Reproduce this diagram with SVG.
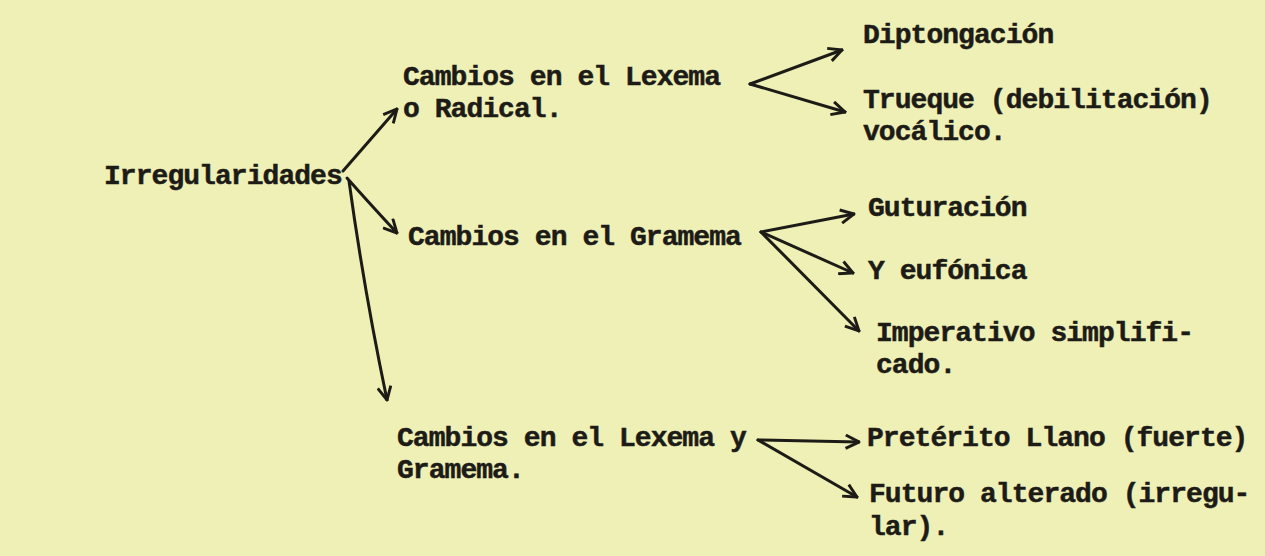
<svg xmlns="http://www.w3.org/2000/svg" width="1265" height="556" viewBox="0 0 1265 556">
<defs>
<style>
.t{font-family:"Liberation Mono","Courier New",monospace;font-weight:bold;font-size:28px;letter-spacing:-0.95px;fill:#1d1b16;stroke:#1d1b16;stroke-width:0.5}
.c{fill:none;stroke:#1d1b16;stroke-width:3;stroke-linecap:round}
</style>
<marker id="ah" viewBox="0 0 12 12" refX="11" refY="6" markerWidth="16" markerHeight="16" markerUnits="userSpaceOnUse" orient="auto">
<path d="M1,1 L11,6 L1,11" fill="none" stroke="#1d1b16" stroke-width="2.2" stroke-linejoin="miter"/>
</marker>
</defs>
<rect width="1265" height="556" fill="#eef0b6"/>
<g id="connectors">
<path class="c" d="M343,171 L397,109" marker-end="url(#ah)"/>
<path class="c" d="M347,178 Q370,204 397,233" marker-end="url(#ah)"/>
<path class="c" d="M349,181 Q364,290 387,400" marker-end="url(#ah)"/>
<path class="c" d="M750,84 L842,50" marker-end="url(#ah)"/>
<path class="c" d="M750,84 L845,112" marker-end="url(#ah)"/>
<path class="c" d="M761,232 L854,214" marker-end="url(#ah)"/>
<path class="c" d="M761,232 L853,273" marker-end="url(#ah)"/>
<path class="c" d="M761,232 L859,331" marker-end="url(#ah)"/>
<path class="c" d="M758,440 L859,442" marker-end="url(#ah)"/>
<path class="c" d="M758,440 L857,497" marker-end="url(#ah)"/>
</g>
<g id="irregularidades"><text class="t" x="104" y="184">Irregularidades</text></g>
<g id="lexema"><text class="t" x="403" y="85">Cambios en el Lexema</text><text class="t" x="403" y="117">o Radical.</text></g>
<g id="gramema"><text class="t" x="408" y="245">Cambios en el Gramema</text></g>
<g id="lexema-gramema"><text class="t" x="397" y="446">Cambios en el Lexema y</text><text class="t" x="397" y="478">Gramema.</text></g>
<g id="diptongacion"><text class="t" x="863" y="43">Diptongación</text></g>
<g id="trueque"><text class="t" x="863" y="108">Trueque (debilitación)</text><text class="t" x="863" y="140">vocálico.</text></g>
<g id="guturacion"><text class="t" x="868" y="216">Guturación</text></g>
<g id="y-eufonica"><text class="t" x="868" y="279">Y eufónica</text></g>
<g id="imperativo"><text class="t" x="876" y="341">Imperativo simplifi-</text><text class="t" x="876" y="373">cado.</text></g>
<g id="preterito"><text class="t" x="867" y="446">Pretérito Llano (fuerte)</text></g>
<g id="futuro"><text class="t" x="869" y="502">Futuro alterado (irregu-</text><text class="t" x="869" y="535">lar).</text></g>
</svg>
